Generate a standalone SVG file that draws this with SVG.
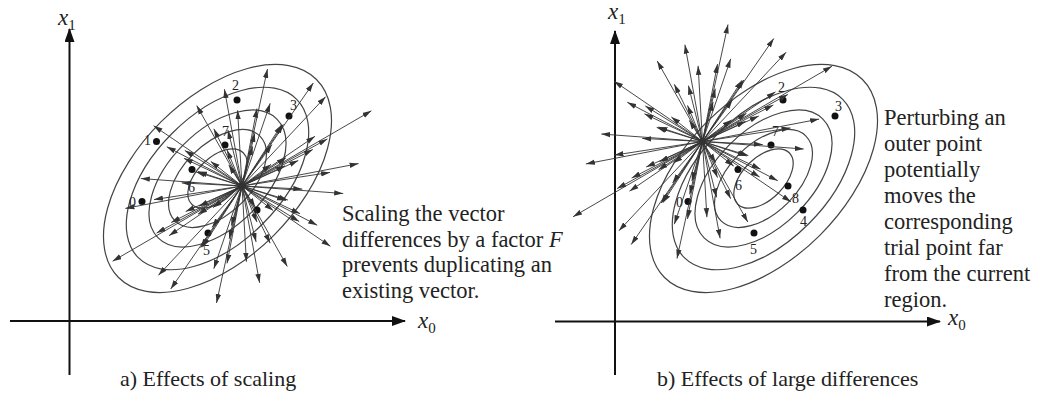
<svg xmlns="http://www.w3.org/2000/svg" width="1037" height="396" viewBox="0 0 1037 396">
<style>
.ax{stroke:#111;stroke-width:2;fill:none}
.el{stroke:#444;stroke-width:1.2;fill:none}
.vec line{stroke:#333;stroke-width:0.9}
.dot{fill:#111}
.t{font-family:"Liberation Serif","Times New Roman",serif;fill:#222}
.note{font-size:22.5px}
.cap{font-size:22px}
.num{font-size:14px}
.var{font-size:23px;font-style:italic}
.sub{font-size:15px;font-style:normal}
</style>
<defs>
<marker id="axh" markerUnits="userSpaceOnUse" markerWidth="14" markerHeight="10" refX="13" refY="5" orient="auto">
<path d="M0,0 L14,5 L0,10 z" fill="#111"/>
</marker>
<marker id="vh" markerUnits="userSpaceOnUse" markerWidth="9" markerHeight="6" refX="9" refY="3" orient="auto">
<path d="M0,0.3 L9,3 L0,5.7 z" fill="#333"/>
</marker>
<g id="contours" class="el" transform="rotate(-45)">
<ellipse rx="140" ry="80"/>
<ellipse rx="112" ry="64"/>
<ellipse rx="84" ry="48"/>
<ellipse rx="60" ry="34.4"/>
<ellipse rx="36.4" ry="20.8"/>
</g>
<g id="vecs" class="vec" marker-end="url(#vh)">
<line x2="12.8" y2="-52.8"/><line x2="-12.8" y2="52.8"/>
<line x2="83.6" y2="-89.3"/><line x2="-83.6" y2="89.3"/>
<line x2="129.4" y2="-75.2"/><line x2="-129.4" y2="75.2"/>
<line x2="101.2" y2="7.5"/><line x2="-101.2" y2="-7.5"/>
<line x2="58.1" y2="27.7"/><line x2="-58.1" y2="-27.7"/>
<line x2="44" y2="-28.2"/><line x2="-44" y2="28.2"/>
<line x2="73" y2="-49.7"/><line x2="-73" y2="49.7"/>
<line x2="88" y2="-13.6"/><line x2="-88" y2="13.6"/>
<line x2="70.8" y2="-36.5"/><line x2="-70.8" y2="36.5"/>
<line x2="116.6" y2="-22.4"/><line x2="-116.6" y2="22.4"/>
<line x2="88.4" y2="60.3"/><line x2="-88.4" y2="-60.3"/>
<line x2="45.3" y2="80.5"/><line x2="-45.3" y2="-80.5"/>
<line x2="31.2" y2="24.6"/><line x2="-31.2" y2="-24.6"/>
<line x2="60.3" y2="3.1"/><line x2="-60.3" y2="-3.1"/>
<line x2="75.2" y2="39.2"/><line x2="-75.2" y2="-39.2"/>
<line x2="45.8" y2="14.1"/><line x2="-45.8" y2="-14.1"/>
<line x2="17.6" y2="96.8"/><line x2="-17.6" y2="-96.8"/>
<line x2="-25.5" y2="117"/><line x2="25.5" y2="-117"/>
<line x2="-39.6" y2="61.2"/><line x2="39.6" y2="-61.2"/>
<line x2="-10.6" y2="39.6"/><line x2="10.6" y2="-39.6"/>
<line x2="4.4" y2="75.7"/><line x2="-4.4" y2="-75.7"/>
<line x2="-28.2" y2="82.7"/><line x2="28.2" y2="-82.7"/>
<line x2="-71.3" y2="103"/><line x2="71.3" y2="-103"/>
<line x2="-85.4" y2="47.1"/><line x2="85.4" y2="-47.1"/>
<line x2="-56.3" y2="25.5"/><line x2="56.3" y2="-25.5"/>
<line x2="-41.4" y2="61.6"/><line x2="41.4" y2="-61.6"/>
<line x2="-43.1" y2="20.2"/><line x2="43.1" y2="-20.2"/>
<line x2="-57.2" y2="-35.6"/><line x2="57.2" y2="35.6"/>
<line x2="-28.2" y2="-57.2"/><line x2="28.2" y2="57.2"/>
<line x2="-13.2" y2="-21.1"/><line x2="13.2" y2="21.1"/>
<line x2="-14.1" y2="-55.9"/><line x2="14.1" y2="55.9"/>
<line x2="15" y2="-77.4"/><line x2="-15" y2="77.4"/>
<line x2="29.9" y2="-41.4"/><line x2="-29.9" y2="41.4"/>
<line x2="29" y2="-21.6"/><line x2="-29" y2="21.6"/>
<line x2="44" y2="14.5"/><line x2="-44" y2="-14.5"/>
<line x2="15" y2="36.1"/><line x2="-15" y2="-36.1"/>
</g>
<g id="pop" class="dot">
<circle cx="142" cy="201.5" r="3.5"/>
<circle cx="156.5" cy="141.5" r="3.5"/>
<circle cx="237" cy="100" r="3.5"/>
<circle cx="289" cy="116" r="3.5"/>
<circle cx="257" cy="210" r="3.5"/>
<circle cx="208" cy="233" r="3.5"/>
<circle cx="192" cy="169.5" r="3.5"/>
<circle cx="225" cy="145" r="3.5"/>
<circle cx="242" cy="186" r="3.5"/>
</g>
</defs>

<!-- Panel a -->
<g id="panel-a-axes">
<line class="ax" x1="69.5" y1="375" x2="69.5" y2="29" marker-end="url(#axh)"/>
<line class="ax" x1="10" y1="321" x2="405" y2="321" marker-end="url(#axh)"/>
<text class="t var" x="58" y="25">x<tspan class="sub" dy="5">1</tspan></text>
<text class="t var" x="418" y="328">x<tspan class="sub" dy="5">0</tspan></text>
</g>
<g id="panel-a-contours"><use href="#contours" transform="translate(217.5,178.5)"/></g>
<g id="panel-a-population">
<use href="#pop"/>
<g class="t num">
<text x="144" y="145">1</text>
<text x="232" y="90">2</text>
<text x="290" y="110">3</text>
<text x="222" y="136">7</text>
<text x="188" y="192">6</text>
<text x="129" y="207">0</text>
<text x="203" y="255">5</text>
</g>
</g>
<g id="panel-a-note" class="t note">
<text x="342" y="221">Scaling the vector</text>
<text x="342" y="246.5">differences by a factor <tspan font-style="italic">F</tspan></text>
<text x="342" y="272">prevents duplicating an</text>
<text x="342" y="297.5">existing vector.</text>
</g>
<text id="caption-a" class="t cap" x="120" y="386">a) Effects of scaling</text>

<!-- Panel b -->
<g id="panel-b-axes">
<line class="ax" x1="615" y1="375" x2="615" y2="31" marker-end="url(#axh)"/>
<line class="ax" x1="555" y1="321.5" x2="940" y2="321.5" marker-end="url(#axh)"/>
<text class="t var" x="608" y="19">x<tspan class="sub" dy="5">1</tspan></text>
<text class="t var" x="948" y="325">x<tspan class="sub" dy="5">0</tspan></text>
</g>
<g id="panel-b-contours"><use href="#contours" transform="translate(763.5,178.5)"/></g>
<g id="panel-b-population">
<use href="#pop" transform="translate(546,0)"/>
<g class="t num">
<text x="778" y="92">2</text>
<text x="835" y="111">3</text>
<text x="772" y="136">7</text>
<text x="735" y="190">6</text>
<text x="792" y="203">8</text>
<text x="800" y="226">4</text>
<text x="750" y="254">5</text>
<text x="676" y="207">0</text>
</g>
</g>
<g id="panel-b-note" class="t note">
<text x="884" y="125">Perturbing an</text>
<text x="884" y="151">outer point</text>
<text x="884" y="177">potentially</text>
<text x="884" y="203">moves the</text>
<text x="884" y="229">corresponding</text>
<text x="884" y="255">trial point far</text>
<text x="884" y="281">from the current</text>
<text x="884" y="307">region.</text>
</g>
<text id="caption-b" class="t cap" x="657" y="386">b) Effects of large differences</text>

<g id="connectors">
<use href="#vecs" transform="translate(242,186)"/>
<use href="#vecs" transform="translate(702.5,141.5)"/>
</g>
</svg>
